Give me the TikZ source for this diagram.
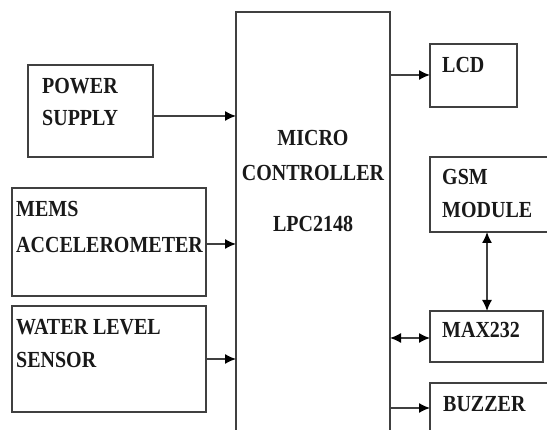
\documentclass[tikz,border=0pt]{standalone}
\usepackage{graphicx}
\usepackage{fontspec}
\setmainfont{Liberation Serif}
\usetikzlibrary{arrows.meta}
\definecolor{linec}{gray}{0.25}
\definecolor{textc}{gray}{0.1}
\newcommand{\tx}[1]{\scalebox{1}[1.15]{#1}}
\begin{document}
\begin{tikzpicture}[x=1pt,y=-1pt,
  blk/.style={draw=linec, line width=1.5pt, inner sep=0pt, outer sep=0pt, anchor=north west},
  txt/.style={anchor=base west, inner sep=0pt, font=\fontsize{20}{24}\selectfont\bfseries, text=textc},
  ctxt/.style={txt, anchor=base},
  tip/.style={Latex[length=11pt,width=10pt,fill=black,line width=0.5pt]},
  arr/.style={draw=linec, line width=1.5pt, -{Latex[length=11pt,width=10pt,color=black]}},
  darr/.style={draw=linec, line width=1.5pt, {Latex[length=11pt,width=10pt,color=black]}-{Latex[length=11pt,width=10pt,color=black]}}]
\useasboundingbox (0,0) rectangle (547,430);
\clip (0,0) rectangle (547,430);
% blocks
\node[blk, minimum width=125pt, minimum height=92pt] (power) at (28,65) {};
\node[blk, minimum width=154pt, minimum height=460pt] (micro) at (236,12) {};
\node[blk, minimum width=87pt, minimum height=63pt] (lcd) at (430,44) {};
\node[blk, minimum width=130pt, minimum height=75pt] (gsm) at (430,157) {};
\node[blk, minimum width=194pt, minimum height=108pt] (mems) at (12,188) {};
\node[blk, minimum width=194pt, minimum height=106pt] (water) at (12,306) {};
\node[blk, minimum width=113pt, minimum height=51pt] (max) at (430,311) {};
\node[blk, minimum width=130pt, minimum height=80pt] (buzz) at (430,383) {};
% texts
\node[txt] (t1) at (42,94) {\tx{POWER}};
\node[txt] (t2) at (42,126) {\tx{SUPPLY}};
\node[ctxt] (t3) at (313,146) {\tx{MICRO}};
\node[ctxt] (t4) at (313,181) {\tx{CONTROLLER}};
\node[ctxt] (t5) at (313,232) {\tx{LPC2148}};
\node[txt] (t6) at (442,73) {\tx{LCD}};
\node[txt] (t7) at (442,185) {\tx{GSM}};
\node[txt] (t8) at (442,218) {\tx{MODULE}};
\node[txt] (t9) at (16,217) {\tx{MEMS}};
\node[txt] (t10) at (16,253) {\tx{ACCELEROMETER}};
\node[txt] (t11) at (16,335) {\tx{WATER LEVEL}};
\node[txt] (t12) at (16,368) {\tx{SENSOR}};
\node[txt] (t13) at (442,338) {\tx{MAX232}};
\node[txt] (t14) at (443,412) {\tx{BUZZER}};
% connector levels
\coordinate (yp) at (0,116);
\coordinate (yl) at (0,75);
\coordinate (ym) at (0,244);
\coordinate (yw) at (0,359);
\coordinate (yx) at (0,338);
\coordinate (yb) at (0,408);
\coordinate (xg) at (487,0);
% connectors
\draw[arr] (power.east |- yp) -- (micro.west |- yp);
\draw[arr] (micro.east |- yl) -- (lcd.west |- yl);
\draw[arr] (mems.east |- ym) -- (micro.west |- ym);
\draw[arr] (water.east |- yw) -- (micro.west |- yw);
\draw[darr] (micro.east |- yx) -- (max.west |- yx);
\draw[arr] (micro.east |- yb) -- (buzz.west |- yb);
\draw[darr] (xg |- gsm.south) -- (xg |- max.north);
\end{tikzpicture}
\end{document}
